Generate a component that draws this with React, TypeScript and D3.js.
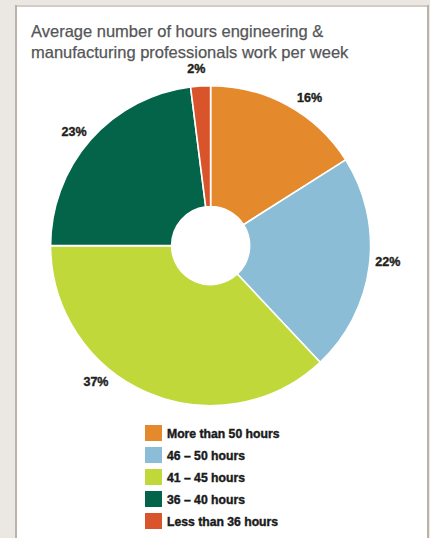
import React from "react";
import * as d3 from "d3";

const titleLines = [
  "Average number of hours engineering &",
  "manufacturing professionals work per week",
];
const categories = [
  "More than 50 hours",
  "46 \u2013 50 hours",
  "41 \u2013 45 hours",
  "36 \u2013 40 hours",
  "Less than 36 hours",
];
const values = [16, 22, 37, 23, 2];
const colors = ["#e58a2c", "#8bbed6", "#c0d83a", "#04644a", "#d9532b"];
// small angular nudges (degrees) applied to the label placement
const labelNudge = [5, -2, 16.7, -1.5, -1];

const W = 430;
const H = 538;
const cx = 210.6;
const cy = 245.6;
const outerR = 160;
const innerR = 39;
const labelR = 178;

export default function App() {
  const pie = d3
    .pie<number>()
    .sort(null)
    .value((d) => d)
    .startAngle(0)
    .endAngle(2 * Math.PI);
  const arcs = pie(values);
  const arcGen = d3
    .arc<d3.PieArcDatum<number>>()
    .innerRadius(innerR)
    .outerRadius(outerR);

  const legendY = d3
    .scaleBand<number>()
    .domain(d3.range(categories.length))
    .range([425, 425 + 22 * categories.length])
    .paddingInner(0);

  return (
    <svg
      width={W}
      height={H}
      style={{ position: "fixed", left: 0, top: 0, display: "block" }}
      fontFamily="'Liberation Sans', Arial, Helvetica, sans-serif"
    >
      <rect x={0} y={0} width={W} height={H} fill="#ebe8e3" />
      <rect x={15} y={5} width={414} height={H} fill="#d3ccc4" />
      <rect x={15} y={5} width={2} height={H} fill="#bdb2a8" />
      <rect x={427} y={5} width={2} height={H} fill="#bdb2a8" />
      <rect x={17} y={7} width={410} height={H} fill="#ffffff" />

      {titleLines.map((t, i) => (
        <text
          key={i}
          x={31}
          y={37 + i * 21}
          fontSize={16.5}
          fill="#555658"
          stroke="#555658"
          strokeWidth={0.25}
        >
          {t}
        </text>
      ))}

      <g transform={`translate(${cx},${cy})`}>
        {arcs.map((a, i) => (
          <path
            key={i}
            d={arcGen(a) || ""}
            fill={colors[i]}
            stroke="#ffffff"
            strokeWidth={1.6}
            strokeLinejoin="round"
          />
        ))}
        {arcs.map((a, i) => {
          const mid = (a.startAngle + a.endAngle) / 2 + (labelNudge[i] * Math.PI) / 180;
          const x = Math.sin(mid) * labelR;
          const y = -Math.cos(mid) * labelR;
          return (
            <text
              key={i}
              x={x}
              y={y}
              dy="0.36em"
              textAnchor="middle"
              fontSize={12.5}
              fontWeight="bold"
              fill="#231f20"
              stroke="#231f20"
              strokeWidth={0.4}
            >
              {values[i]}%
            </text>
          );
        })}
      </g>

      {categories.map((c, i) => {
        const y0 = legendY(i) as number;
        return (
          <g key={i}>
            <rect x={145} y={y0} width={17} height={16} fill={colors[i]} />
            <text
              x={167}
              y={y0 + 13.3}
              fontSize={12.2}
              fontWeight="bold"
              fill="#1a1a1a"
              stroke="#1a1a1a"
              strokeWidth={0.4}
            >
              {c}
            </text>
          </g>
        );
      })}
    </svg>
  );
}
